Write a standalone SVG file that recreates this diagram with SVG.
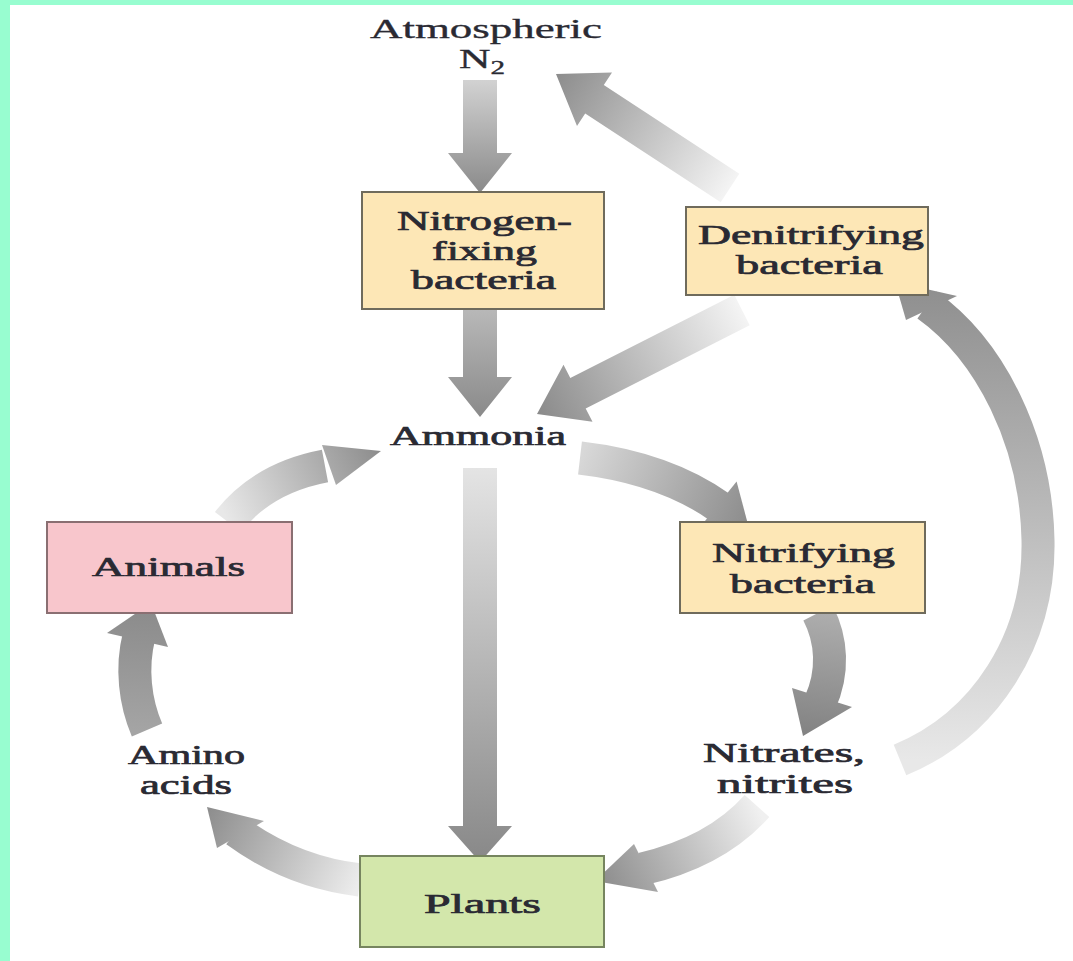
<svg xmlns="http://www.w3.org/2000/svg" width="1073" height="961" viewBox="0 0 1073 961">
<defs>
<style>
.lbl{font-family:"Liberation Serif","Times New Roman",serif;font-size:27px;font-weight:normal;fill:#2a2a33;stroke:#2a2a33;stroke-width:0.7px;}
.lt{stroke-width:0.35px;}
.box{stroke-width:2;}
.y{fill:#fde7b6;stroke:#6f6b5c;}
.pk{fill:#f8c6cc;stroke:#8a6f72;}
.gr{fill:#d3e7ab;stroke:#76855f;}
.sh{fill:none;stroke-width:33;stroke-linecap:butt;}
</style>
<linearGradient id="g1" gradientUnits="userSpaceOnUse" x1="0" y1="80" x2="0" y2="193"><stop offset="0" stop-color="#d2d2d2"/><stop offset="1" stop-color="#8a8a8a"/></linearGradient>
<linearGradient id="g2" gradientUnits="userSpaceOnUse" x1="0" y1="310" x2="0" y2="417"><stop offset="0" stop-color="#b8b8b8"/><stop offset="1" stop-color="#8a8a8a"/></linearGradient>
<linearGradient id="g3" gradientUnits="userSpaceOnUse" x1="0" y1="468" x2="0" y2="862"><stop offset="0" stop-color="#e4e4e4"/><stop offset="1" stop-color="#888888"/></linearGradient>
<linearGradient id="g4" gradientUnits="userSpaceOnUse" x1="730" y1="188" x2="556" y2="74"><stop offset="0" stop-color="#f4f4f4"/><stop offset="1" stop-color="#8c8c8c"/></linearGradient>
<linearGradient id="g5" gradientUnits="userSpaceOnUse" x1="742" y1="310" x2="537" y2="414"><stop offset="0" stop-color="#f4f4f4"/><stop offset="1" stop-color="#8a8a8a"/></linearGradient>
<linearGradient id="g6" gradientUnits="userSpaceOnUse" x1="580" y1="458" x2="750" y2="532"><stop offset="0" stop-color="#d8d8d8"/><stop offset="1" stop-color="#8a8a8a"/></linearGradient>
<linearGradient id="g7" gradientUnits="userSpaceOnUse" x1="818" y1="613" x2="803" y2="736"><stop offset="0" stop-color="#adadad"/><stop offset="1" stop-color="#828282"/></linearGradient>
<linearGradient id="g8" gradientUnits="userSpaceOnUse" x1="757" y1="806" x2="595" y2="881"><stop offset="0" stop-color="#f0f0f0"/><stop offset="1" stop-color="#8a8a8a"/></linearGradient>
<linearGradient id="g9" gradientUnits="userSpaceOnUse" x1="900" y1="760" x2="895" y2="282"><stop offset="0" stop-color="#e8e8e8"/><stop offset="1" stop-color="#8e8e8e"/></linearGradient>
<linearGradient id="g10" gradientUnits="userSpaceOnUse" x1="228" y1="522" x2="381" y2="451"><stop offset="0" stop-color="#e8e8e8"/><stop offset="1" stop-color="#8c8c8c"/></linearGradient>
<linearGradient id="g11" gradientUnits="userSpaceOnUse" x1="147" y1="730" x2="151" y2="603"><stop offset="0" stop-color="#a4a4a4"/><stop offset="1" stop-color="#8a8a8a"/></linearGradient>
<linearGradient id="g12" gradientUnits="userSpaceOnUse" x1="360" y1="880" x2="207" y2="807"><stop offset="0" stop-color="#ececec"/><stop offset="1" stop-color="#8c8c8c"/></linearGradient>
</defs>
<rect x="0" y="0" width="1073" height="961" fill="#ffffff"/>
<rect x="0" y="0" width="1073" height="5" fill="#98fdd0"/>
<rect x="0" y="0" width="10" height="961" fill="#98fdd0"/>

<g id="connectors">
<polygon fill="url(#g1)" points="463,80 497,80 497,153 512,153 480,193 448,153 463,153"/>
<polygon fill="url(#g2)" points="463,310 497,310 497,377 512,377 480,417 448,377 463,377"/>
<polygon fill="url(#g3)" points="463,468 497,468 497,826 512,826 480,862 448,826 463,826"/>
<polygon fill="url(#g4)" points="739.3,173.8 603.8,85 612,72.4 556,74 577,126 585.2,113.4 720.7,202.2"/>
<polygon fill="url(#g5)" points="734.3,294.8 570.3,378 563.5,364.7 537,414 592.5,421.7 585.7,408.4 749.7,325.2"/>
<path class="sh" stroke="url(#g6)" d="M580,458 Q665,468 721,508"/>
<polygon fill="url(#g6)" points="697.8,529.9 736.6,481.5 750,532"/>
<path class="sh" stroke="url(#g7)" d="M818,613 C832,640 834,672 820,703"/>
<polygon fill="url(#g7)" points="792,688 852,707 803,736"/>
<path class="sh" stroke="url(#g8)" d="M757,806 Q716,852 642,869"/>
<polygon fill="url(#g8)" points="634,844 658,892 595,881"/>
<path class="sh" stroke="url(#g9)" d="M900,760 C985,725 1040,640 1038,540 C1036,440 990,350 927,305"/>
<polygon fill="url(#g9)" points="906,320 957,296 895,282"/>
<path class="sh" stroke="url(#g10)" d="M228,522 Q262,478 325,466"/>
<polygon fill="url(#g10)" points="322,445 336,485 381,451"/>
<path class="sh" stroke="url(#g11)" d="M147,730 C135,702 131,668 139,636"/>
<polygon fill="url(#g11)" points="107,633 168,647 151,603"/>
<path class="sh" stroke="url(#g12)" d="M360,880 Q292,872 236,831"/>
<polygon fill="url(#g12)" points="264,821 217,848 207,807"/>
</g>

<g id="atmospheric-n2">
<text class="lbl lt" x="370" y="38" textLength="232" lengthAdjust="spacingAndGlyphs">Atmospheric</text>
<text class="lbl lt" x="459" y="68" textLength="46" lengthAdjust="spacingAndGlyphs">N<tspan font-size="18" dy="6">2</tspan></text>
</g>

<g id="nitrogen-fixing-bacteria">
<rect class="box y" x="362" y="192" width="242" height="117"/>
<text class="lbl" x="397" y="230" textLength="175" lengthAdjust="spacingAndGlyphs">Nitrogen-</text>
<text class="lbl" x="432" y="260" textLength="105" lengthAdjust="spacingAndGlyphs">fixing</text>
<text class="lbl" x="411" y="289" textLength="145" lengthAdjust="spacingAndGlyphs">bacteria</text>
</g>

<g id="denitrifying-bacteria">
<rect class="box y" x="686" y="207" width="242" height="88"/>
<text class="lbl" x="698" y="244" textLength="226" lengthAdjust="spacingAndGlyphs">Denitrifying</text>
<text class="lbl" x="736" y="274" textLength="147" lengthAdjust="spacingAndGlyphs">bacteria</text>
</g>

<g id="ammonia">
<text class="lbl" x="390" y="445" textLength="176" lengthAdjust="spacingAndGlyphs">Ammonia</text>
</g>

<g id="nitrifying-bacteria">
<rect class="box y" x="680" y="522" width="245" height="91"/>
<text class="lbl" x="712" y="562" textLength="183" lengthAdjust="spacingAndGlyphs">Nitrifying</text>
<text class="lbl" x="730" y="593" textLength="145" lengthAdjust="spacingAndGlyphs">bacteria</text>
</g>

<g id="animals">
<rect class="box pk" x="47" y="522" width="245" height="91"/>
<text class="lbl" x="92" y="576" textLength="153" lengthAdjust="spacingAndGlyphs">Animals</text>
</g>

<g id="amino-acids">
<text class="lbl" x="128" y="764" textLength="117" lengthAdjust="spacingAndGlyphs">Amino</text>
<text class="lbl" x="140" y="794" textLength="92" lengthAdjust="spacingAndGlyphs">acids</text>
</g>

<g id="nitrates-nitrites">
<text class="lbl" x="703" y="762" textLength="162" lengthAdjust="spacingAndGlyphs">Nitrates,</text>
<text class="lbl" x="717" y="793" textLength="136" lengthAdjust="spacingAndGlyphs">nitrites</text>
</g>

<g id="plants">
<rect class="box gr" x="360" y="856" width="244" height="91"/>
<text class="lbl" x="424" y="913" textLength="117" lengthAdjust="spacingAndGlyphs">Plants</text>
</g>
</svg>
